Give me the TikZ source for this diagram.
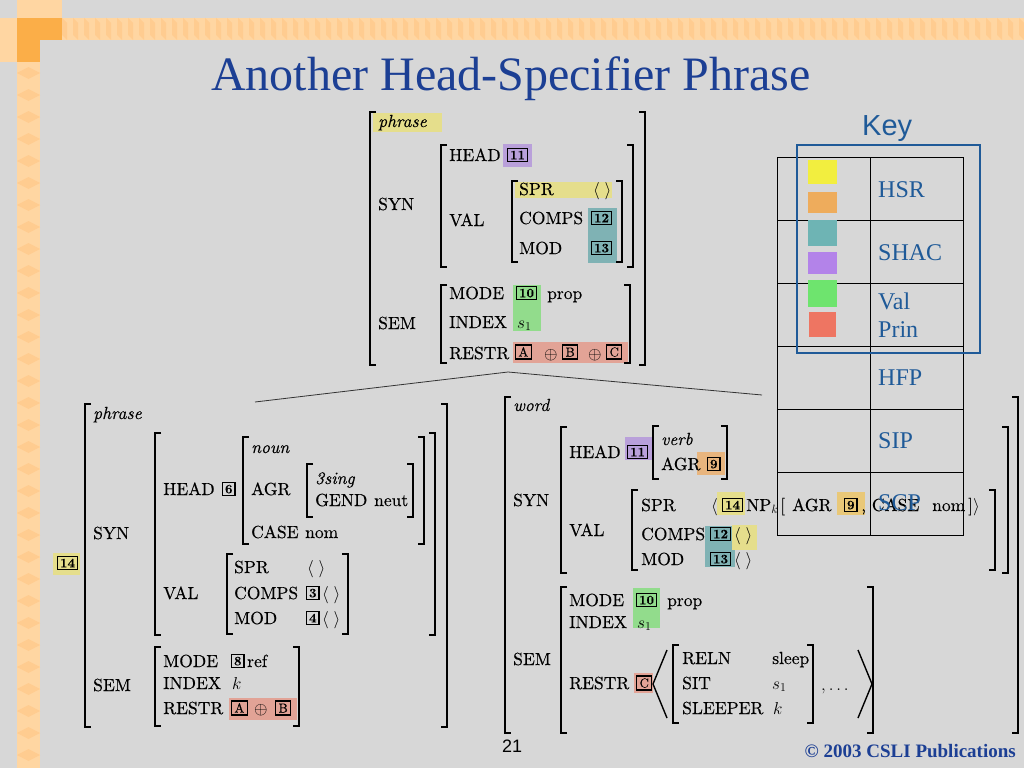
\documentclass[tikz,border=0pt]{standalone}
\usepackage{fontspec}
\newfontfamily\titlefont{Liberation Serif}
\newfontfamily\keyfont{Liberation Sans}
\newfontfamily\avmfont{lmroman10-regular.otf}[FakeBold=0.3, ItalicFont=lmroman10-italic.otf, BoldFont=lmroman10-bold.otf]
\usetikzlibrary{positioning}
\definecolor{slideGray}{HTML}{D7D7D7}
\definecolor{barOrange}{HTML}{FFD6A2}
\definecolor{barDark}{HTML}{FFCC90}
\definecolor{barCorner}{HTML}{FBAE48}
\definecolor{slideBlue}{HTML}{1C3F94}
\definecolor{keyBlue}{HTML}{1F5A98}
\definecolor{hlYellow}{HTML}{E5DE8C}
\definecolor{hlPurple}{HTML}{B9A0DA}
\definecolor{hlTeal}{HTML}{7FB2B4}
\definecolor{hlGreen}{HTML}{92DC8C}
\definecolor{hlRed}{HTML}{E2A396}
\definecolor{hlOrange}{HTML}{E8B57E}
\definecolor{hlAmber}{HTML}{E9C878}
\definecolor{keyYellow}{HTML}{F2EE3F}
\definecolor{keyOrange}{HTML}{EEAC5C}
\definecolor{keyTeal}{HTML}{6EB4B4}
\definecolor{keyPurple}{HTML}{B383E9}
\definecolor{keyGreen}{HTML}{6EE46E}
\definecolor{keyRed}{HTML}{EE7562}
\tikzset{
	lbl/.style={
		anchor=west,
		inner sep=0pt,
		font=\avmfont\fontsize{17.5}{20}\selectfont,
		text height=12pt,
		text depth=0pt
	},
	typ/.style={
		lbl,
		font=\avmfont\fontsize{17.5}{20}\selectfont\itshape
	},
	tag/.style={
		draw,
		line width=1.1pt,
		anchor=west,
		inner xsep=2.5pt,
		inner ysep=2.5pt,
		font=\avmfont\fontsize{13}{15}\selectfont\bfseries,
		text height=8.6pt,
		text depth=0pt
	},
	ltag/.style={
		tag,
		inner xsep=3pt,
		font=\avmfont\fontsize{13}{15}\selectfont,
		text height=9pt
	},
	brak/.style={
		line width=1.8pt
	},
	angl/.style={
		line width=1.4pt
	},
	keyLbl/.style={
		anchor=base west,
		inner sep=0pt,
		text=keyBlue,
		font=\titlefont\fontsize{24}{26}\selectfont
	},
	branch/.style={
		line width=0.8pt,
		black!80
	}
}

\begin{document}
\begin{tikzpicture}[x=1pt,y=-1pt]
	\useasboundingbox (0,0) rectangle (1024,768);
	\fill[slideGray] (0,0) rectangle (1024,768);
	% corner bars
	\fill[barOrange] (17,0) rectangle (40,768);
	\fill[barOrange] (0,18) rectangle (1024,40);
	\fill[barOrange] (17,0) rectangle (62,18);
	\fill[barOrange] (0,40) rectangle (17,62);
	\foreach \y in {62,84,...,768}{\fill[barDark] (17,\y+11) -- (28.5,\y+5) -- (40,\y+11) -- (28.5,\y+17) -- cycle;}
	\foreach \x in {62,73,...,1020}{\fill[barDark] (\x,18) -- (\x+5,23) -- (\x+5,40) -- (\x,35) -- cycle;}
	\fill[barCorner] (17,18) rectangle (62,40);
	\fill[barCorner] (17,40) rectangle (40,62);

	\node[anchor=base, inner sep=0pt, text=slideBlue, font=\titlefont\fontsize{48}{52}\selectfont] (title) at (511,90) {Another Head-Specifier Phrase};

	% highlights
	\fill[hlYellow] (373,113) rectangle (442,132);
	\fill[hlPurple] (503,144) rectangle (532,167);
	\fill[hlYellow] (515,182) rectangle (612,198);
	\fill[hlTeal] (588,208) rectangle (617,263);
	\fill[hlGreen] (513,285) rectangle (541,331);
	\fill[hlRed] (513,342) rectangle (628,363);
	\fill[hlYellow] (53,553) rectangle (80,575);
	\fill[hlRed] (229,698) rectangle (297,720);
	\fill[hlPurple] (625,437) rectangle (653,460);
	\fill[hlOrange] (697,452) rectangle (725,475);
	\fill[hlYellow] (717,492) rectangle (745,515);
	\fill[hlAmber] (837,492) rectangle (865,515);
	\fill[hlTeal] (705,526) rectangle (735,567);
	\fill[hlYellow] (732,525) rectangle (757,550);
	\fill[hlGreen] (633,588) rectangle (660,628);
	\fill[hlRed] (634,673) rectangle (653,693);

	% brackets
	\foreach \bx/\ba/\bb in {370/112/365, 441/145/267, 512/181/262, 441/285/363,
		85/404/727, 155/433/635, 243/437/544, 307/464/517, 227/554/634, 155/647/726,
		505/397/733, 561/427/573, 653/426/479, 632/490/570, 561/587/733, 673/645/723}{
		\draw[brak] (\bx+6,\ba) -| (\bx,\bb) -- ++(6,0);
	}
	\foreach \bx/\ba/\bb in {645/112/365, 633/145/267, 622/181/262, 630/285/363,
		447/404/727, 435/433/635, 424/437/544, 413/464/517, 348/554/634, 299/647/726,
		1018/397/733, 1008/427/573, 727/426/479, 995/490/570, 873/587/733, 813/645/723}{
		\draw[brak] (\bx-6,\ba) -| (\bx,\bb) -- ++(-6,0);
	}

	% mother
	\node[typ] (tPhrase) at (378,121) {phrase};
	\node[lbl] (tSyn) at (378,204) {SYN};
	\node[lbl] (tHead) at (449,155) {HEAD};
	\node[tag] (tH11) at (507,155) {11};
	\node[lbl] (tVal) at (449,220) {VAL};
	\node[lbl] (tSpr) at (519,189) {SPR};
	\node[lbl] (tSprV) at (593,189) {$\langle\;\rangle$};
	\node[lbl] (tComps) at (519,218) {COMPS};
	\node[tag] (tC12) at (591,218) {12};
	\node[lbl] (tMod) at (519,248) {MOD};
	\node[tag] (tM13) at (591,248) {13};
	\node[lbl] (tSem) at (378,323) {SEM};
	\node[lbl] (tMode) at (449,293) {MODE};
	\node[tag] (tM10) at (516,293) {10};
	\node[lbl] (tProp) at (547,293) {prop};
	\node[lbl] (tIndex) at (449,322) {INDEX};
	\node[lbl] (tS1) at (517,322) {$s_1$};
	\node[lbl] (tRestr) at (449,353) {RESTR};
	\node[ltag] (tRa) at (515,352) {A};
	\node[lbl] (tOpa) at (544,353) {$\oplus$};
	\node[ltag] (tRb) at (562,352) {B};
	\node[lbl] (tOpb) at (588,353) {$\oplus$};
	\node[ltag] (tRc) at (606,352) {C};

	% branches
	\coordinate (apex) at (508,372);
	\coordinate (leftTop) at (255,402);
	\coordinate (rightTop) at (762,395);
	\draw[branch] (leftTop) -- (apex) -- (rightTop);

	% specifier daughter
	\node[tag] (lT14) at (57,563) {14};
	\node[typ] (lPhrase) at (93,413) {phrase};
	\node[lbl] (lSyn) at (93,533) {SYN};
	\node[lbl] (lHead) at (163,489) {HEAD};
	\node[tag] (lH6) at (222,489) {6};
	\node[typ] (lNoun) at (251,447) {noun};
	\node[lbl] (lAgr) at (251,489) {AGR};
	\node[typ] (lSing) at (315,478) {3sing};
	\node[lbl] (lGend) at (315,500) {GEND};
	\node[lbl] (lNeut) at (374,500) {neut};
	\node[lbl] (lCase) at (251,532) {CASE};
	\node[lbl] (lNom) at (305,532) {nom};
	\node[lbl] (lVal) at (163,593) {VAL};
	\node[lbl] (lSpr) at (234,567) {SPR};
	\node[lbl] (lSprV) at (307,567) {$\langle\;\rangle$};
	\node[lbl] (lComps) at (234,593) {COMPS};
	\node[tag] (lC3) at (306,593) {3};
	\node[lbl] (lCompsV) at (322,593) {$\langle\;\rangle$};
	\node[lbl] (lMod) at (234,618) {MOD};
	\node[tag] (lM4) at (306,618) {4};
	\node[lbl] (lModV) at (322,618) {$\langle\;\rangle$};
	\node[lbl] (lSem) at (93,685) {SEM};
	\node[lbl] (lMode) at (163,661) {MODE};
	\node[tag] (lM8) at (231,661) {8};
	\node[lbl] (lRef) at (247,661) {ref};
	\node[lbl] (lIndex) at (163,683) {INDEX};
	\node[lbl] (lK) at (232,683) {$k$};
	\node[lbl] (lRestr) at (163,708) {RESTR};
	\node[ltag] (lRa) at (231,708) {A};
	\node[lbl] (lOp) at (254,708) {$\oplus$};
	\node[ltag] (lRb) at (275,708) {B};

	% head daughter
	\node[typ] (rWord) at (513,405) {word};
	\node[lbl] (rSyn) at (513,500) {SYN};
	\node[lbl] (rHead) at (569,452) {HEAD};
	\node[tag] (rH11) at (627,452) {11};
	\node[typ] (rVerb) at (661,439) {verb};
	\node[lbl] (rAgr) at (661,464) {AGR};
	\node[tag] (rA9) at (707,464) {9};
	\node[lbl] (rVal) at (569,530) {VAL};
	\node[lbl] (rSpr) at (641,505) {SPR};
	\node[lbl] (rSprL) at (711,505) {$\langle$};
	\node[tag] (rS14) at (722,505) {14};
	\node[lbl] (rNp) at (746,505) {NP$_k$};
	\node[lbl] (rBrk) at (780,505) {[};
	\node[lbl] (rAgrS) at (792,505) {AGR};
	\node[tag] (rS9) at (844,505) {9};
	\node[lbl] (rCase) at (861,505) {, CASE};
	\node[lbl] (rNom) at (932,505) {nom\,]$\rangle$};
	\node[lbl] (rComps) at (641,534) {COMPS};
	\node[tag] (rC12) at (710,534) {12};
	\node[lbl] (rCompsV) at (734,534) {$\langle\;\rangle$};
	\node[lbl] (rMod) at (641,559) {MOD};
	\node[tag] (rM13) at (710,559) {13};
	\node[lbl] (rModV) at (734,559) {$\langle\;\rangle$};
	\node[lbl] (rSem) at (513,659) {SEM};
	\node[lbl] (rMode) at (569,600) {MODE};
	\node[tag] (rM10) at (636,600) {10};
	\node[lbl] (rProp) at (667,600) {prop};
	\node[lbl] (rIndex) at (569,622) {INDEX};
	\node[lbl] (rS1) at (637,622) {$s_1$};
	\node[lbl] (rRestr) at (569,683) {RESTR};
	\node[ltag] (rRc) at (636,683) {C};
	\node[lbl] (rReln) at (682,658) {RELN};
	\node[lbl] (rSleep) at (772,658) {sleep};
	\node[lbl] (rSit) at (682,683) {SIT};
	\node[lbl] (rSitV) at (772,683) {$s_1$};
	\node[lbl] (rSleeper) at (682,708) {SLEEPER};
	\node[lbl] (rSleeperV) at (773,708) {$k$};
	\node[lbl] (rDots) at (821,684) {$,\ldots$};
	\draw[angl] (667,650) -- (653,684) -- (667,718);
	\draw[angl] (858,650) -- (872,684) -- (858,718);

	% key
	\node[anchor=base west, inner sep=0pt, text=keyBlue, font=\keyfont\fontsize{29}{32}\selectfont] (keyTitle) at (862,135) {Key};
	\draw[line width=0.8pt] (777,157) rectangle (963,535);
	\draw[line width=0.8pt] (870,157) -- (870,535);
	\foreach \ky in {220,283,346,409,472}{\draw[line width=0.8pt] (777,\ky) -- (963,\ky);}
	\fill[keyYellow] (808,160) rectangle (837,184);
	\fill[keyOrange] (808,192) rectangle (837,213);
	\fill[keyTeal] (808,220) rectangle (837,246);
	\fill[keyPurple] (808,252) rectangle (837,274);
	\fill[keyGreen] (808,280) rectangle (837,307);
	\fill[keyRed] (809,312) rectangle (836,337);
	\draw[keyBlue, line width=2.6pt] (797,145) rectangle (980,353);
	\node[keyLbl] (kHsr) at (878,197) {HSR};
	\node[keyLbl] (kShac) at (878,260) {SHAC};
	\node[keyLbl] (kVal) at (878,309) {Val};
	\node[keyLbl] (kPrin) at (878,337) {Prin};
	\node[keyLbl] (kHfp) at (878,385) {HFP};
	\node[keyLbl] (kSip) at (878,448) {SIP};
	\node[keyLbl] (kScp) at (878,510) {SCP};

	% footer
	\node[anchor=base west, inner sep=0pt, font=\keyfont\fontsize{18}{20}\selectfont] (pageNo) at (502,752) {21};
	\node[anchor=base east, inner sep=0pt, text=slideBlue, font=\titlefont\bfseries\fontsize{19}{21}\selectfont] (copyright) at (1016,757) {© 2003 CSLI Publications};
\end{tikzpicture}
\end{document}
